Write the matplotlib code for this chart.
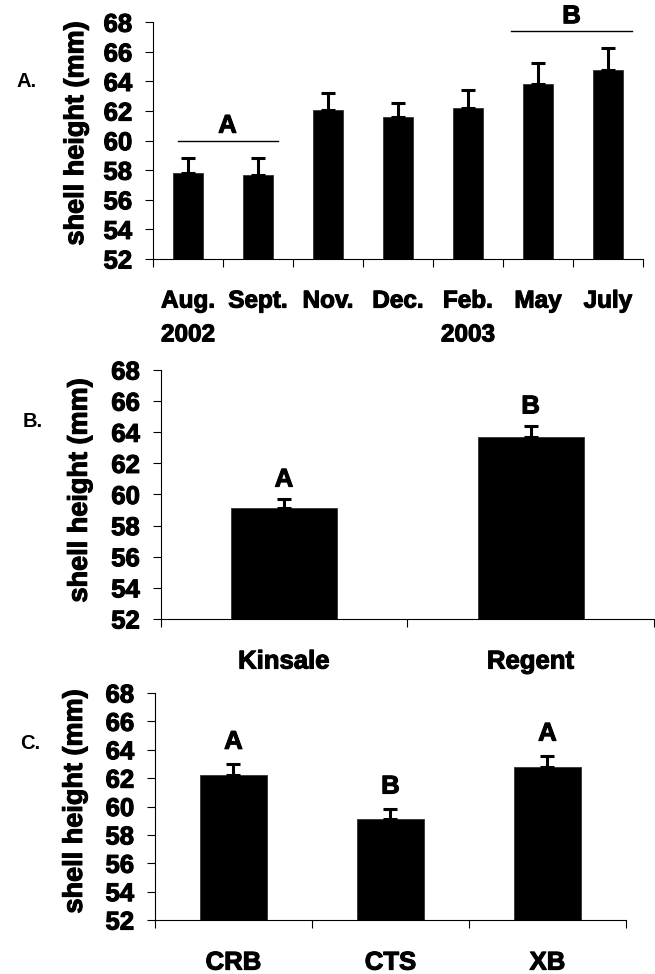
import numpy as np
import matplotlib
matplotlib.use("Agg")
import matplotlib.pyplot as plt
import matplotlib.patheffects as pe
from matplotlib import font_manager

plt.rcParams['font.family'] = ['Liberation Sans', 'DejaVu Sans']
plt.rcParams['font.weight'] = 'bold'

# panel A - sampling month
months = ['Aug.\n2002', 'Sept.', 'Nov.', 'Dec.', 'Feb.\n2003', 'May', 'July']
month_mean = [57.8, 57.7, 62.1, 61.6, 62.2, 63.8, 64.75]
month_se = [1.0, 1.1, 1.13, 0.93, 1.24, 1.45, 1.49]
# groups marked with a line and a letter: (first x, last x, line y, letter)
month_groups = [(-0.15, 1.28, 60.0, 'A'), (4.62, 6.34, 67.4, 'B')]

# panel B - site
sites = ['Kinsale', 'Regent']
site_mean = [59.15, 63.7]
site_se = [0.54, 0.69]
site_letters = ['A', 'B']

# panel C - stock
stocks = ['CRB', 'CTS', 'XB']
stock_mean = [62.25, 59.15, 62.8]
stock_se = [0.76, 0.71, 0.79]
stock_letters = ['A', 'B', 'A']

yticks = np.arange(52, 69, 2)

# a narrow bold face gives the tall tick digits of the original, if there is one
names = {f.name for f in font_manager.fontManager.ttflist}
if 'Liberation Sans Narrow' in names:
    tick_family = ['Liberation Sans Narrow', 'Liberation Sans']
    tick_size = 20.5
else:
    tick_family = ['Liberation Sans', 'DejaVu Sans']
    tick_size = 18.5

heavy = [pe.withStroke(linewidth=0.8, foreground='black')]

fig = plt.figure(figsize=(6.55, 9.74), dpi=100)
axA = fig.add_axes([0.2336, 0.7341, 0.748, 0.2430])
axB = fig.add_axes([0.2453, 0.3645, 0.7531, 0.2556])
axC = fig.add_axes([0.2366, 0.0554, 0.7191, 0.2331])


def bar_panel(ax, labels, mean, se, ylab_x, ylab_y, xsize):
    n = len(labels)
    x = np.arange(n)
    ax.bar(x, np.array(mean) - 52, bottom=52, width=0.43, color='black',
           edgecolor='#333333', linewidth=0.6, zorder=2)
    ax.errorbar(x, mean, yerr=[np.zeros(n), se], fmt='none', ecolor='black',
                elinewidth=2.2, capsize=4.7, capthick=2.2, zorder=3)
    ax.set_xlim(-0.5, n - 0.5)
    ax.set_ylim(52, 68)
    ax.set_yticks(yticks)
    ax.set_xticks(x)
    ax.set_xticklabels(labels, fontsize=xsize, fontweight='bold')
    ax.set_xticks(np.arange(n + 1) - 0.5, minor=True)
    ax.tick_params(axis='x', which='major', length=0, pad=22)
    ax.tick_params(axis='x', which='minor', length=6, width=0.8, direction='out')
    ax.tick_params(axis='y', length=6, width=0.8, pad=9)
    for lab in ax.get_yticklabels():
        lab.set_fontweight('bold')
        lab.set_family(tick_family)
        lab.set_fontsize(tick_size)
        lab.set_path_effects(heavy)
    for lab in ax.get_xticklabels():
        lab.set_path_effects(heavy)
    for s in ['top', 'right']:
        ax.spines[s].set_visible(False)
    for s in ['left', 'bottom']:
        ax.spines[s].set_linewidth(0.8)
    ax.set_ylabel('shell height (mm)', fontsize=19.5, fontweight='bold',
                  path_effects=heavy)
    ax.yaxis.label.set_va('center')
    ax.yaxis.set_label_coords(ylab_x, ylab_y)
    return x


bar_panel(axA, months, month_mean, month_se, -0.157, 0.53, 17.5)
for lab in axA.get_xticklabels():
    lab.set_linespacing(1.6)
for x0, x1, yl, letter in month_groups:
    axA.plot([x0, x1], [yl, yl], color='black', linewidth=1.0, clip_on=False)
    axA.text((x0 + x1) / 2, yl + 0.2, letter, ha='center', va='bottom',
             fontsize=18.5, fontweight='bold', path_effects=heavy)

xb = bar_panel(axB, sites, site_mean, site_se, -0.164, 0.516, 18.5)
for i, letter in enumerate(site_letters):
    axB.text(xb[i], site_mean[i] + site_se[i] + 1.27, letter, ha='center', va='center',
             fontsize=18.5, fontweight='bold', path_effects=heavy)

xc = bar_panel(axC, stocks, stock_mean, stock_se, -0.17, 0.522, 18.5)
for i, letter in enumerate(stock_letters):
    axC.text(xc[i], stock_mean[i] + stock_se[i] + 1.55, letter, ha='center', va='center',
             fontsize=18.5, fontweight='bold', path_effects=heavy)

fig.text(0.040, 0.916, 'A.', ha='center', va='center', fontsize=14.5, fontweight='bold')
fig.text(0.050, 0.567, 'B.', ha='center', va='center', fontsize=14.5, fontweight='bold')
fig.text(0.046, 0.237, 'C.', ha='center', va='center', fontsize=14.5, fontweight='bold')

fig.savefig('out.png', dpi=100)
